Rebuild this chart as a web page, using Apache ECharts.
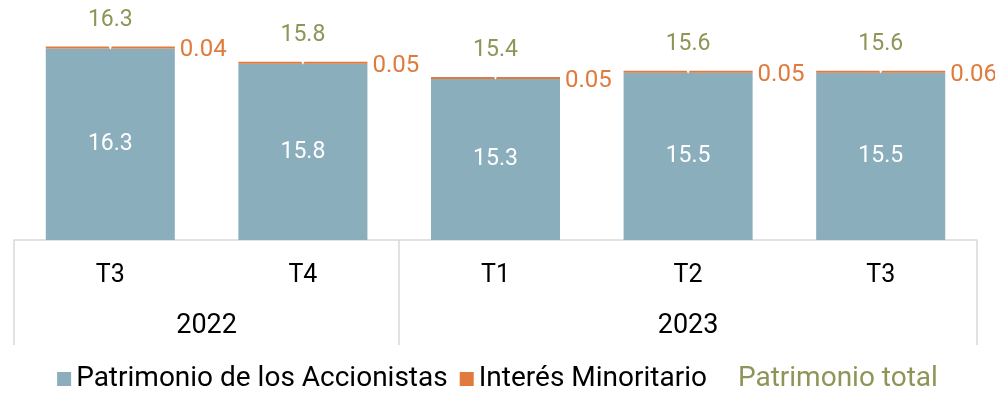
<!DOCTYPE html>
<html>
<head>
<meta charset="utf-8">
<script src="https://cdn.jsdelivr.net/npm/echarts@6/dist/echarts.min.js"></script>
<style>
  html, body { margin: 0; padding: 0; background: #fff; }
  #chart { width: 995px; height: 400px; }
</style>
</head>
<body>
<div id="chart"></div>
<script>
// trimestres y años
var quarters = ['T3', 'T4', 'T1', 'T2', 'T3'];
var years = ['2022', '2023'];
var yearCenters = [1, 3.5];      // posición del rótulo del año, en trimestres
var yearBreaks = [0, 2, 5];      // separadores entre años

// valores (miles de millones)
var accionistas = [16.3, 15.8, 15.3, 15.5, 15.5];
var minoritario = [0.04, 0.05, 0.05, 0.05, 0.06];
var total = [16.3, 15.8, 15.4, 15.6, 15.6];

var blue = '#8baebc';
var orange = '#e07a3d';
var olive = '#8f9557';
var fontFamily = 'Roboto, sans-serif';

var chart = echarts.init(document.getElementById('chart'), null, { renderer: 'canvas' });

var option = {
    animation: false,
    textStyle: { fontFamily: fontFamily },
    grid: { left: 14, right: 18, top: 12, bottom: 160, containLabel: false },
    legend: {
        bottom: 2,
        left: 'center',
        itemWidth: 14,
        itemHeight: 14,
        itemGap: 12,
        textStyle: { fontSize: 28, color: '#000', fontFamily: fontFamily, padding: [0, 0, 0, 0] },
        data: [
            { name: 'Patrimonio de los Accionistas', icon: 'rect' },
            { name: 'Interés Minoritario', icon: 'rect' },
            { name: 'Patrimonio total', icon: 'none', itemStyle: { opacity: 0 }, lineStyle: { opacity: 0 },
              textStyle: { color: olive } }
        ]
    },
    xAxis: [{
        type: 'category',
        data: quarters,
        axisLine: { lineStyle: { color: '#d9d9d9', width: 1.5 } },
        axisTick: { show: false },
        axisLabel: { fontSize: 25, color: '#000', margin: 23 }
    }, {
        type: 'value',
        position: 'bottom',
        min: 0,
        max: 5,
        axisLine: { show: false },
        splitLine: { show: false },
        axisTick: {
            show: true,
            inside: false,
            customValues: yearBreaks,
            length: 105,
            lineStyle: { color: '#d9d9d9', width: 1.5 }
        },
        axisLabel: {
            customValues: yearCenters,
            fontSize: 27,
            color: '#000',
            margin: 73,
            formatter: function (v) {
                return years[yearCenters.indexOf(v)];
            }
        }
    }],
    yAxis: {
        type: 'value',
        min: 10,
        max: 17.5,
        show: false
    },
    series: [{
        name: 'Patrimonio de los Accionistas',
        type: 'bar',
        stack: 'p',
        barWidth: '67%',
        data: accionistas,
        itemStyle: { color: blue },
        label: {
            show: true,
            position: 'inside',
            color: '#fff',
            fontSize: 23,
            formatter: function (p) { return p.value.toFixed(1); }
        }
    }, {
        name: 'Interés Minoritario',
        type: 'bar',
        stack: 'p',
        barWidth: '67%',
        barMinHeight: 2,
        data: minoritario,
        itemStyle: { color: orange },
        label: {
            show: true,
            position: 'right',
            distance: 5,
            offset: [0, 3],
            color: orange,
            fontSize: 24,
            formatter: function (p) { return p.value.toFixed(2); }
        }
    }, {
        name: 'Patrimonio total',
        type: 'line',
        data: accionistas.map(function (v, i) { return +(v + minoritario[i]).toFixed(2); }),
        lineStyle: { opacity: 0 },
        symbol: 'triangle',
        symbolRotate: 180,
        symbolSize: 5,
        itemStyle: { color: '#fff' },
        z: 5,
        label: {
            show: true,
            position: 'top',
            distance: 13,
            color: olive,
            fontSize: 23,
            formatter: function (p) { return total[p.dataIndex].toFixed(1); }
        }
    }]
};

chart.setOption(option);
</script>
</body>
</html>
